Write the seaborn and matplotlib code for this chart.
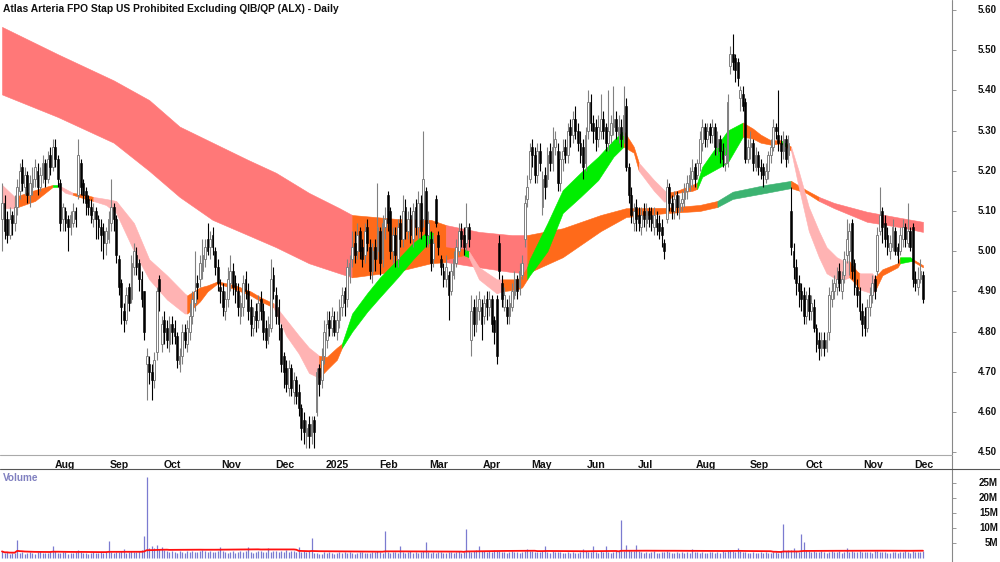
import numpy as np
import pandas as pd
import matplotlib
matplotlib.use('Agg')
import matplotlib.pyplot as plt
from matplotlib.lines import Line2D
import seaborn as sns

sns.set_theme(style='white')
plt.rcParams['font.family'] = ['Liberation Sans', 'DejaVu Sans']

title = 'Atlas Arteria FPO Stap US Prohibited Excluding QIB/QP (ALX) - Daily'

# daily prices in cents, one row per month (Jul 2024 .. Dec 2025)
opens = [
    508, 512, 508, 504, 509, 507, 511, 515, 521, 516, 519, 514, 516, 518, 520, 516, 519, 522, 518, 524, 521,
    526, 523, 517, 508, 510, 508, 506, 507, 510, 514, 522, 517, 515, 513, 511, 508, 510, 508, 506, 505, 502, 503,
    507, 511, 508, 498, 492, 485, 483, 491, 488, 496, 499, 497, 493, 490, 472, 472, 470, 468, 475, 493, 477,
    483, 481, 477, 482, 481, 479, 472, 474, 480, 477, 480, 484, 487, 492, 493, 495, 498, 503, 501, 504, 500, 496, 491,
    490, 485, 488, 492, 495, 492, 490, 484, 486, 493, 490, 486, 481, 485, 483, 488, 485, 481, 479, 481, 494,
    489, 486, 481, 474, 471, 466, 471, 465, 468, 465, 461, 458, 454, 457, 454, 458, 460, 471, 468, 474,
    478, 483, 481, 483, 480, 483, 486, 490, 488, 494, 498, 502, 500, 505, 501, 499, 506, 501, 495, 501, 500,
    505, 498, 506, 514, 510, 500, 504, 498, 507, 503, 511, 505, 509, 503, 511, 506, 512, 508, 515, 504,
    503, 498, 513, 504, 498, 495, 493, 494, 490, 494, 497, 500, 505, 504, 502, 506, 478, 486, 482, 485, 486,
    484, 488, 486, 488, 483, 488, 502, 492, 486, 486, 484, 486, 489, 493, 491, 494, 503, 513, 518,
    526, 524, 519, 525, 511, 519, 518, 525, 522, 526, 525, 517, 523, 526, 524, 531, 529, 533, 530, 527, 526, 522,
    530, 537, 532, 531, 528, 530, 533, 531, 527, 529, 531, 533, 529, 531, 529, 536, 521, 514, 507, 511,
    509, 506, 510, 507, 510, 509, 506, 508, 507, 506, 502, 508, 516, 512, 510, 514, 510, 512, 513, 515, 516, 518, 521,
    519, 522, 527, 531, 528, 531, 529, 531, 526, 528, 525, 522, 522, 546, 549, 548, 547, 538, 539, 537, 523,
    526, 527, 521, 524, 521, 521, 518, 520, 524, 526, 531, 529, 527, 525, 528, 524, 510, 500, 496, 492, 490, 489,
    484, 489, 485, 486, 481, 478, 476, 478, 476, 480, 488, 490, 491, 495, 490, 494, 499, 500, 507, 497, 491, 490, 485,
    484, 481, 486, 489, 493, 495, 505, 510, 507, 504, 500, 501, 505, 501, 500, 503, 506, 502, 505, 506,
    493, 491, 493, 494,
]
highs = [
    517, 514, 510, 511, 510, 514, 518, 522, 523, 521, 520, 519, 521, 523, 522, 521, 524, 523, 525, 526, 528,
    528, 524, 518, 512, 511, 509, 510, 512, 511, 528, 523, 518, 516, 514, 513, 512, 511, 509, 508, 507, 506, 510,
    518, 512, 509, 499, 493, 487, 491, 492, 499, 502, 501, 498, 495, 490, 476, 474, 472, 475, 491, 494, 484,
    485, 483, 484, 484, 483, 480, 476, 482, 482, 483, 487, 490, 500, 494, 499, 503, 503, 507, 505, 506, 501, 498, 493,
    492, 490, 496, 499, 497, 494, 492, 489, 494, 495, 492, 488, 486, 487, 489, 490, 487, 483, 484, 498, 496,
    491, 488, 482, 475, 473, 473, 472, 470, 469, 467, 462, 460, 458, 459, 459, 459, 471, 472, 476, 483,
    485, 485, 486, 485, 485, 488, 491, 491, 498, 499, 505, 505, 507, 506, 503, 507, 508, 503, 502, 503, 517,
    506, 509, 511, 515, 511, 506, 506, 508, 509, 514, 513, 510, 511, 512, 513, 515, 514, 530, 516, 510,
    505, 504, 514, 505, 499, 497, 499, 495, 497, 500, 503, 507, 507, 506, 512, 507, 489, 488, 489, 490, 488,
    489, 490, 490, 489, 484, 489, 504, 494, 491, 488, 489, 492, 495, 494, 497, 499, 514, 519, 527,
    528, 526, 527, 527, 520, 521, 526, 527, 531, 530, 527, 525, 528, 528, 532, 533, 535, 536, 532, 530, 528, 531,
    540, 539, 534, 533, 534, 539, 535, 532, 540, 534, 541, 535, 534, 533, 541, 538, 522, 516, 512, 513,
    511, 511, 512, 512, 511, 511, 511, 510, 509, 508, 503, 518, 517, 514, 515, 515, 514, 515, 517, 519, 521, 523, 522,
    523, 530, 533, 532, 532, 532, 533, 532, 530, 529, 527, 526, 539, 551, 554, 549, 548, 541, 541, 538, 528,
    530, 528, 526, 525, 523, 522, 522, 525, 528, 533, 532, 540, 529, 530, 529, 529, 516, 502, 498, 494, 492, 491,
    490, 491, 489, 488, 482, 480, 480, 480, 480, 491, 493, 494, 496, 497, 495, 500, 508, 507, 508, 498, 493, 491, 487,
    486, 488, 491, 494, 494, 506, 516, 511, 509, 506, 504, 508, 506, 502, 506, 508, 507, 512, 506, 507,
    495, 496, 498, 495,
]
lows = [
    500, 503, 502, 503, 504, 505, 509, 513, 515, 514, 512, 511, 514, 516, 514, 515, 517, 516, 517, 519, 520,
    521, 516, 505, 505, 505, 500, 504, 506, 506, 513, 514, 512, 509, 509, 507, 506, 503, 503, 500, 498, 499, 502,
    505, 505, 497, 489, 482, 480, 482, 485, 487, 494, 494, 490, 486, 478, 463, 467, 463, 466, 473, 485, 475,
    477, 476, 475, 477, 477, 471, 470, 472, 476, 475, 478, 482, 485, 488, 491, 493, 496, 499, 498, 499, 494, 490, 487,
    484, 483, 486, 490, 489, 487, 484, 482, 484, 488, 483, 479, 479, 480, 481, 483, 478, 476, 477, 480, 488,
    482, 478, 470, 466, 465, 464, 464, 462, 462, 459, 453, 452, 451, 451, 452, 451, 459, 464, 466, 472,
    476, 479, 479, 479, 478, 481, 484, 484, 486, 492, 496, 497, 498, 498, 496, 497, 500, 493, 492, 495, 498,
    494, 496, 503, 505, 498, 497, 496, 496, 501, 501, 503, 503, 502, 501, 504, 503, 503, 506, 501, 501,
    495, 496, 506, 499, 494, 491, 491, 483, 489, 493, 496, 499, 501, 499, 500, 501, 474, 479, 480, 483, 478,
    482, 483, 484, 480, 477, 472, 493, 486, 485, 482, 482, 485, 488, 488, 489, 493, 501, 511, 517,
    521, 517, 517, 520, 509, 513, 516, 520, 520, 524, 515, 515, 520, 522, 522, 526, 527, 528, 525, 522, 518, 520,
    528, 530, 527, 525, 526, 528, 528, 525, 525, 527, 529, 528, 527, 526, 527, 520, 512, 507, 505, 505,
    505, 504, 506, 505, 506, 505, 504, 504, 503, 501, 498, 507, 510, 508, 508, 509, 508, 510, 511, 513, 515, 516, 516,
    518, 520, 525, 526, 526, 527, 527, 524, 524, 522, 521, 520, 521, 544, 545, 542, 541, 535, 535, 522, 522,
    523, 520, 520, 519, 518, 516, 517, 518, 522, 525, 528, 525, 522, 523, 521, 522, 499, 493, 489, 486, 485, 482,
    482, 483, 483, 480, 475, 473, 474, 474, 475, 478, 486, 488, 489, 490, 488, 492, 497, 494, 493, 489, 486, 483, 479,
    479, 480, 484, 487, 488, 494, 504, 502, 501, 499, 498, 500, 499, 497, 499, 501, 501, 501, 500, 491,
    490, 489, 492, 487,
]
closes = [
    512, 505, 504, 508, 507, 511, 516, 520, 517, 519, 514, 517, 518, 521, 516, 519, 522, 518, 523, 521, 526,
    523, 518, 507, 511, 507, 506, 509, 510, 508, 524, 516, 514, 512, 511, 509, 510, 508, 506, 504, 502, 505, 508,
    511, 508, 499, 491, 486, 483, 489, 487, 497, 500, 496, 493, 488, 480, 474, 470, 468, 473, 490, 490, 482,
    480, 478, 482, 480, 479, 473, 474, 480, 478, 481, 484, 488, 490, 491, 497, 499, 501, 500, 503, 501, 496, 492, 490,
    486, 488, 493, 495, 491, 490, 486, 487, 492, 490, 485, 482, 484, 483, 487, 485, 480, 478, 482, 493, 490,
    484, 482, 472, 470, 467, 471, 466, 468, 464, 461, 456, 455, 456, 454, 457, 455, 470, 467, 473, 480,
    482, 481, 484, 480, 483, 486, 489, 487, 496, 497, 501, 499, 504, 500, 498, 505, 502, 495, 500, 498, 506,
    497, 507, 508, 507, 500, 504, 499, 506, 503, 510, 505, 508, 504, 510, 506, 512, 505, 518, 504, 507,
    497, 502, 507, 501, 496, 493, 496, 489, 495, 498, 501, 505, 503, 501, 506, 503, 485, 482, 486, 488, 482,
    487, 486, 488, 482, 480, 474, 495, 488, 489, 484, 487, 490, 493, 490, 495, 497, 512, 516, 525,
    524, 519, 525, 522, 518, 516, 524, 522, 526, 528, 517, 523, 525, 524, 530, 529, 533, 530, 527, 524, 521, 529,
    537, 532, 530, 528, 531, 533, 530, 527, 530, 532, 533, 530, 531, 528, 534, 521, 514, 509, 510, 508,
    507, 509, 508, 510, 508, 507, 509, 506, 505, 504, 500, 516, 512, 510, 513, 511, 512, 513, 515, 517, 519, 520, 518,
    522, 528, 531, 528, 530, 529, 531, 526, 528, 525, 523, 524, 537, 549, 547, 545, 543, 540, 536, 523, 526,
    527, 522, 524, 521, 520, 519, 520, 524, 526, 531, 530, 527, 525, 528, 523, 527, 501, 496, 492, 490, 488, 484,
    488, 485, 487, 481, 477, 476, 478, 476, 478, 489, 490, 492, 493, 492, 493, 498, 503, 505, 495, 491, 489, 485, 482,
    481, 486, 489, 492, 490, 504, 509, 506, 503, 501, 502, 506, 500, 499, 504, 506, 503, 505, 501, 493,
    492, 493, 495, 488,
]
# volume in millions
volumes = [
    2.2, 1.6, 1.9, 1.5, 1.8, 1.7, 6.0, 1.6, 1.9, 1.4, 1.8, 2.1, 1.7, 1.5, 1.9, 2.4, 1.6, 1.8, 1.7, 2.0, 4.0,
    2.3, 1.8, 1.6, 2.0, 1.9, 1.5, 1.7, 1.8, 2.0, 2.6, 1.9, 1.6, 1.8, 1.5, 1.7, 1.9, 1.6, 1.8, 2.0, 1.7, 1.9, 5.7,
    2.1, 1.8, 2.0, 1.9, 2.2, 3.0, 1.8, 2.0, 2.3, 1.9, 2.1, 2.4, 2.6, 7.3, 27.0, 3.5, 4.0, 3.2, 4.2, 3.0, 3.6,
    2.8, 2.2, 1.9, 2.4, 2.0, 1.8, 2.3, 2.1, 1.7, 2.2, 2.0, 2.5, 1.9, 2.1, 2.3, 2.6, 2.4, 2.0, 2.2, 1.9, 2.1, 2.3, 3.7,
    2.2, 2.0, 1.8, 2.1, 2.3, 1.7, 1.9, 2.2, 2.0, 2.4, 3.7, 2.1, 1.8, 2.0, 2.3, 2.2, 1.9, 2.1, 3.3, 2.0, 2.4,
    2.2, 1.9, 2.5, 2.1, 2.6, 2.0, 2.3, 2.2, 1.9, 3.7, 2.0, 2.4, 2.1, 2.2, 6.7, 1.8, 1.6, 1.2, 1.4, 1.9,
    1.7, 1.9, 1.6, 1.5, 1.8, 2.0, 1.7, 1.9, 1.6, 2.1, 1.8, 1.5, 1.7, 1.9, 2.0, 1.6, 1.8, 1.7, 1.9, 2.0, 2.2,
    1.9, 1.7, 9.0, 2.0, 1.8, 1.9, 2.1, 1.7, 4.0, 2.0, 1.8, 1.9, 2.2, 1.7, 1.9, 1.8, 2.0, 2.3, 5.4, 2.1,
    1.8, 2.0, 1.7, 1.9, 2.1, 1.6, 1.8, 2.0, 1.9, 1.7, 2.0, 2.2, 1.8, 2.1, 9.6, 2.4, 2.0, 2.2, 2.6, 4.0, 2.3,
    2.5, 2.1, 2.3, 2.0, 2.6, 2.2, 2.4, 1.9, 2.1, 1.8, 2.0, 2.2, 1.9, 2.1, 1.8, 2.0, 2.3, 3.0, 2.4,
    2.2, 1.9, 2.1, 2.0, 2.3, 4.0, 2.1, 1.8, 2.2, 2.0, 1.9, 2.1, 1.7, 1.8, 2.0, 1.6, 1.9, 1.7, 1.8, 2.0, 3.0, 2.2,
    2.1, 1.9, 4.0, 2.0, 1.8, 2.2, 1.9, 4.0, 2.1, 1.8, 2.0, 2.2, 2.3, 12.7, 2.4, 4.5, 2.6, 2.2, 2.5, 4.5,
    2.3, 2.0, 1.8, 2.1, 1.7, 1.9, 2.2, 1.6, 1.8, 2.0, 2.1, 2.3, 1.9, 1.7, 1.8, 2.0, 1.6, 1.9, 1.7, 2.0, 1.8, 3.0, 2.1,
    1.9, 1.7, 2.0, 1.8, 1.6, 1.9, 2.1, 1.8, 2.0, 1.7, 2.2, 1.9, 2.4, 2.6, 2.3, 2.1, 3.5, 2.2, 2.0, 1.9, 1.8,
    1.7, 1.9, 1.6, 1.8, 2.0, 1.7, 1.9, 1.6, 1.8, 2.0, 1.9, 1.7, 2.2, 11.3, 2.4, 2.8, 2.6, 3.5, 2.3, 2.1, 8.0, 5.5,
    2.6, 2.3, 2.0, 2.2, 1.9, 2.1, 2.4, 2.0, 1.8, 2.1, 2.3, 1.9, 2.0, 2.2, 1.8, 2.0, 3.3, 2.1, 2.4, 2.0, 1.9, 2.2, 2.0,
    2.1, 1.9, 2.0, 1.8, 2.2, 2.4, 2.1, 1.9, 2.0, 1.8, 1.7, 1.9, 2.1, 1.8, 2.0, 1.9, 2.2, 2.0, 1.8, 2.3,
    2.1, 1.9, 2.0, 2.2,
]

# short-term ribbon edges (bar index, top, bottom, colour p/o/g)
short_x = [0, 5, 13, 20, 22, 25, 28, 33, 36, 41,
           45, 52, 58, 65, 72, 73, 78, 81, 85, 92,
           98, 102, 107, 112, 117, 121, 125, 128, 132, 134,
           138, 144, 149, 156, 162, 168, 170, 175, 182, 184,
           188, 195, 197, 203, 205, 207, 208, 215, 221, 228,
           235, 241, 245, 249, 251, 257, 261, 262, 266, 272,
           274, 276, 286, 292, 296, 299, 303, 307, 309, 311,
           314, 318, 322, 325, 329, 332, 334, 337, 338, 343,
           344, 347, 353, 354, 358, 359, 363]
short_top = [5.165, 5.135, 5.152, 5.165, 5.165, 5.155, 5.145, 5.14, 5.135, 5.13,
             5.125, 5.07, 4.98, 4.94, 4.895, 4.89, 4.91, 4.915, 4.925, 4.915,
             4.90, 4.885, 4.87, 4.83, 4.79, 4.76, 4.74, 4.737, 4.76, 4.77,
             4.845, 4.896, 4.935, 4.98, 5.02, 5.05, 5.045, 5.01, 5.005, 5.00,
             4.96, 4.93, 4.93, 4.93, 4.94, 4.96, 4.98, 5.07, 5.152, 5.195,
             5.235, 5.276, 5.30, 5.26, 5.22, 5.177, 5.152, 5.145, 5.15, 5.165,
             5.17, 5.21, 5.30, 5.32, 5.305, 5.29, 5.276, 5.276, 5.268, 5.26,
             5.20, 5.11, 5.05, 5.01, 4.985, 4.975, 4.975, 4.95, 4.945, 4.945,
             4.935, 4.955, 4.97, 4.985, 4.985, 4.98, 4.965]
short_bot = [5.107, 5.107, 5.125, 5.16, 5.16, 5.145, 5.14, 5.13, 5.125, 5.115,
             5.095, 5.00, 4.93, 4.88, 4.845, 4.845, 4.875, 4.90, 4.92, 4.905,
             4.89, 4.875, 4.86, 4.79, 4.745, 4.697, 4.685, 4.705, 4.73, 4.76,
             4.80, 4.85, 4.886, 4.935, 4.98, 5.02, 5.02, 4.98, 4.99, 4.985,
             4.93, 4.895, 4.90, 4.905, 4.91, 4.93, 4.94, 5.00, 5.095, 5.135,
             5.177, 5.235, 5.26, 5.245, 5.20, 5.15, 5.123, 5.125, 5.145, 5.15,
             5.155, 5.185, 5.22, 5.285, 5.28, 5.27, 5.265, 5.268, 5.26, 5.25,
             5.16, 5.05, 4.985, 4.945, 4.93, 4.93, 4.935, 4.915, 4.905, 4.895,
             4.90, 4.94, 4.96, 4.97, 4.975, 4.975, 4.96]
short_col = [
    'p', 'o', 'o', 'g', 'p', 'p', 'o', 'o', 'p', 'p',
    'p', 'p', 'p', 'p', 'p', 'o', 'o', 'o', 'o', 'o',
    'o', 'o', 'p', 'p', 'p', 'p', 'o', 'o', 'o', 'g',
    'g', 'g', 'g', 'g', 'g', 'g', 'o', 'o', 'g', 'p',
    'p', 'p', 'o', 'o', 'o', 'g', 'g', 'g', 'g', 'g',
    'g', 'g', 'o', 'o', 'p', 'p', 'p', 'o', 'o', 'o',
    'g', 'g', 'g', 'o', 'o', 'o', 'o', 'g', 'o', 'p',
    'p', 'p', 'p', 'p', 'p', 'p', 'o', 'o', 'p', 'p',
    'o', 'o', 'o', 'g', 'g', 'o', 'o']

# long-term ribbon edges (r = falling red, o = orange, s = rising green)
long_x = [0, 22, 44, 58, 70, 83, 97, 108, 121, 133, 138, 156, 169, 175, 188, 201,
          207, 221, 236, 246, 262, 275, 282, 288, 301, 311, 317, 322, 328, 341, 354, 363]
long_top = [5.558, 5.49, 5.425, 5.376, 5.31, 5.27, 5.227, 5.195, 5.145, 5.107, 5.09, 5.08,
            5.078, 5.065, 5.048, 5.04, 5.04, 5.057, 5.09, 5.107, 5.108, 5.115, 5.125, 5.148,
            5.165, 5.175, 5.152, 5.135, 5.12, 5.098, 5.083, 5.073]
long_bot = [5.39, 5.334, 5.27, 5.20, 5.135, 5.078, 5.04, 5.01, 4.97, 4.945, 4.935, 4.95,
            4.97, 4.973, 4.96, 4.948, 4.945, 4.985, 5.05, 5.085, 5.095, 5.10, 5.11, 5.13,
            5.145, 5.157, 5.145, 5.125, 5.107, 5.073, 5.06, 5.048]
long_col = ['r'] * 10 + ['o'] * 3 + ['r'] * 3 + ['o'] * 6 + ['s'] * 3 + ['o'] * 2 + ['r'] * 5

holidays = ['2024-12-25', '2024-12-26', '2025-01-01', '2025-01-27',
            '2025-04-18', '2025-04-21', '2025-04-25', '2025-06-09']

palette = {'p': '#ffb3b3', 'o': '#ff6a1a', 'g': '#00ee00',
           'r': '#ff7878', 's': '#3cb371'}

days = pd.bdate_range('2024-07-03', '2025-12-04')
days = days[~days.isin(pd.to_datetime(holidays))][:len(closes)]
x = np.arange(len(closes))
o = np.array(opens) / 100
h = np.array(highs) / 100
l = np.array(lows) / 100
c = np.array(closes) / 100
vol = np.array(volumes)

W, H = 1000, 562
fig = plt.figure(figsize=(W / 100, H / 100), dpi=100)
ax = fig.add_axes([0, 1 - 455 / H, 952 / W, 455 / H])
axv = fig.add_axes([0, 0, 952 / W, 93 / H])


def draw_ribbon(ax, xs, top, bot, codes, z):
    start = 0
    for k in range(1, len(xs)):
        if k == len(xs) - 1 or codes[k] != codes[start]:
            col = palette[codes[start]]
            ax.fill_between(xs[start:k + 1], top[start:k + 1], bot[start:k + 1],
                            color=col, lw=0.4, edgecolor=col, zorder=z)
            start = k


draw_ribbon(ax, long_x, long_top, long_bot, long_col, 1)
draw_ribbon(ax, short_x, short_top, short_bot, short_col, 2)

# candles: hollow grey for up days, black for down days
up = c >= o
ax.vlines(x[up], l[up], h[up], color='#808080', lw=0.8, zorder=3)
ax.vlines(x[~up], l[~up], h[~up], color='black', lw=0.8, zorder=3)
ax.bar(x[up], np.maximum(c[up] - o[up], 0.002), bottom=o[up], width=0.7,
       color='white', edgecolor='#808080', lw=0.7, zorder=4)
ax.bar(x[~up], o[~up] - c[~up], bottom=c[~up], width=0.7,
       color='black', edgecolor='black', lw=0.4, zorder=4)

ax.set_xlim(-0.79, 374.45)
ax.set_ylim(4.493, 5.6249)
for s in ax.spines.values():
    s.set_visible(False)

# price scale on the right
yt = np.round(np.arange(4.5, 5.61, 0.1), 2)
ax.set_yticks(yt)
ax.yaxis.tick_right()
ax.tick_params(axis='y', direction='out', length=3, width=0.6, color='#888888',
               labelright=False, labelleft=False)
for v in yt:
    ax.text(997 / 952, v, f'{v:.2f}', transform=ax.get_yaxis_transform(),
            ha='right', va='center', fontsize=7, fontweight='bold',
            color='#111111', clip_on=False)

# month ticks on the first trading day of each month
month_start = [i for i in range(1, len(days)) if days[i].month != days[i - 1].month]
month_lab = [str(days[i].year) if days[i].month == 1 else days[i].strftime('%b')
             for i in month_start]
ax.set_xticks([i - 0.4 for i in month_start])
ax.set_xticklabels(month_lab)
ax.tick_params(axis='x', direction='out', length=2.5, width=0.6, color='#888888',
               labelsize=7.6, pad=1, labelcolor='#111111')
plt.setp(ax.get_xticklabels(), ha='left', fontweight='bold')

ax.text(3 / 952, 1 - 9 / 455, title, transform=ax.transAxes, ha='left', va='center',
        fontsize=7.4, fontweight='bold', color='#111111')

# volume panel
axv.vlines(x, 0, vol, color='#7b7bd0', lw=0.9, zorder=2)
vol_avg = pd.Series(vol).rolling(60, min_periods=1).mean()
sns.lineplot(x=x, y=vol_avg.values, ax=axv, color='#ff1010', lw=1.3, zorder=3)
axv.set_xlim(-0.79, 374.45)
axv.set_ylim(-1.33, 29.67)
for s in axv.spines.values():
    s.set_visible(False)
axv.set_xticks([])
vt = [5, 10, 15, 20, 25]
axv.set_yticks(vt)
axv.yaxis.tick_right()
axv.tick_params(axis='y', direction='out', length=3, width=0.6, color='#888888',
                labelright=False, labelleft=False)
for v in vt:
    axv.text(998 / 952, v, f'{v}M', transform=axv.get_yaxis_transform(),
             ha='right', va='center', fontsize=7, fontweight='bold',
             color='#111111', clip_on=False)
axv.text(3 / 952, 1 - 9 / 93, 'Volume', transform=axv.transAxes, ha='left', va='center',
         fontsize=7.2, fontweight='bold', color='#8080c0')

# frame lines
fig.add_artist(Line2D([952 / W, 952 / W], [0, 1], transform=fig.transFigure,
                      color='#888888', lw=0.8))
fig.add_artist(Line2D([0, 952 / W], [1 - 455 / H, 1 - 455 / H], transform=fig.transFigure,
                      color='#aaaaaa', lw=0.8))
fig.add_artist(Line2D([0, 1], [1 - 469 / H, 1 - 469 / H], transform=fig.transFigure,
                      color='#555555', lw=0.8))

fig.savefig('out.png', dpi=100)
